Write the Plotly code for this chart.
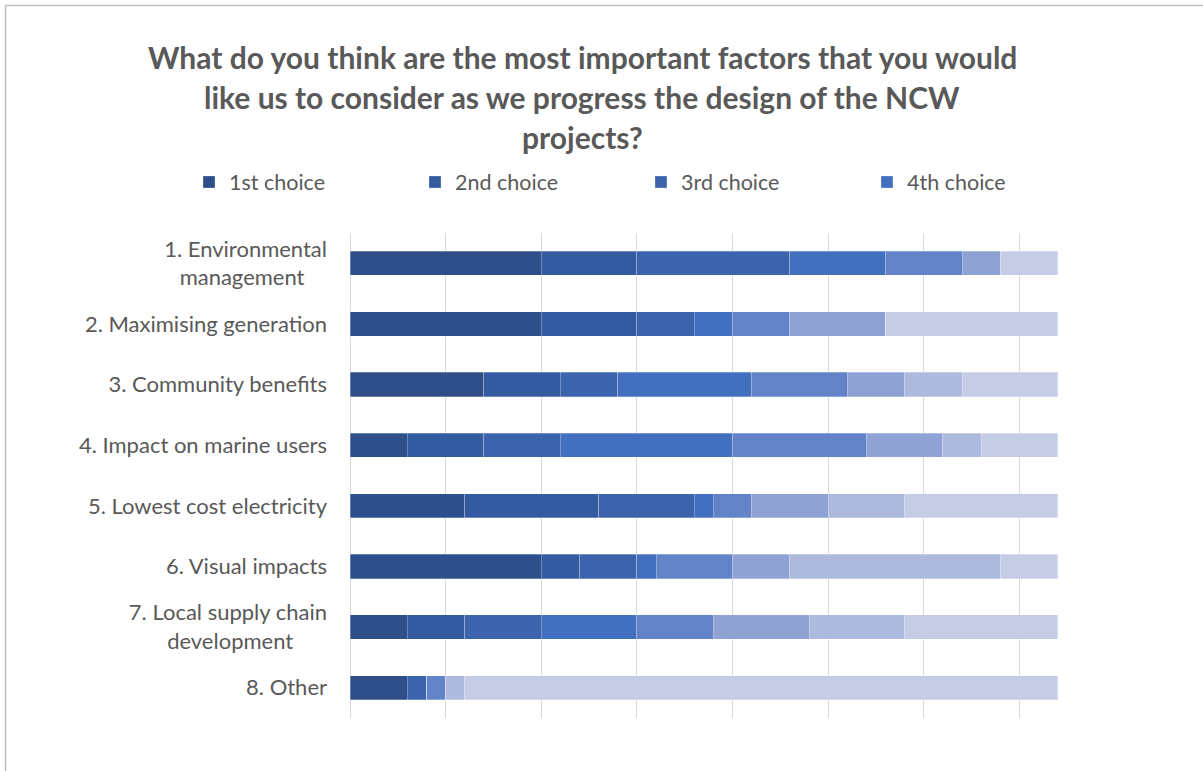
import plotly.graph_objects as go

# Factors (top to bottom) and the number of respondents giving each ranking
factors = [
    "1. Environmental<br>management&nbsp;&nbsp;&nbsp;&nbsp;",
    "2. Maximising generation",
    "3. Community benefits",
    "4. Impact on marine users",
    "5. Lowest cost electricity",
    "6. Visual impacts",
    "7. Local supply chain<br>development&nbsp;&nbsp;&nbsp;&nbsp;&nbsp;&nbsp;",
    "8. Other",
]
choices = ["1st choice", "2nd choice", "3rd choice", "4th choice",
           "5th choice", "6th choice", "7th choice", "8th choice"]

choice_1 = [10, 10, 7, 3, 6, 10, 3, 3]
choice_2 = [5, 5, 4, 4, 7, 2, 3, 0]
choice_3 = [8, 3, 3, 4, 5, 3, 4, 1]
choice_4 = [5, 2, 7, 9, 1, 1, 5, 0]
choice_5 = [4, 3, 5, 7, 2, 4, 4, 1]
choice_6 = [2, 5, 3, 4, 4, 3, 5, 0]
choice_7 = [0, 0, 3, 2, 4, 11, 5, 1]
choice_8 = [3, 9, 5, 4, 8, 3, 8, 31]

series = [choice_1, choice_2, choice_3, choice_4,
          choice_5, choice_6, choice_7, choice_8]

colors = ["#2E4F89", "#345AA0", "#3C64AD", "#4270BE",
          "#6283C8", "#8FA2D4", "#ADBADD", "#C5CDE6"]

title_lines = [
    "What do you think are the most important factors that you would",
    "like us to consider as we progress the design of the NCW",
    "projects?",
]

TEXT = "#595959"
FONT = "Lato"

fig = go.Figure()
for i, (name, vals) in enumerate(zip(choices, series)):
    fig.add_trace(go.Bar(
        y=factors,
        x=vals,
        name=name,
        orientation="h",
        marker=dict(color=colors[i],
                    line=dict(color="rgba(255,255,255,0.35)", width=0.8)),
        showlegend=i < 4,
    ))

W, H = 1203, 771
L, R, T, B = 350, 88, 233, 53
pw, ph = W - L - R, H - T - B


def px_x(x):
    return (x - L) / pw


def px_y(y):
    return (H - B - y) / ph


annotations = []
for k, line in enumerate(title_lines):
    annotations.append(dict(
        text=f"<b>{line}</b>", x=px_x(582), y=px_y(57 + 40 * k),
        xref="paper", yref="paper", xanchor="center", yanchor="middle",
        showarrow=False, font=dict(family=FONT, size=30, color=TEXT),
    ))

fig.update_layout(
    width=W, height=H,
    margin=dict(l=L, r=R, t=T, b=B),
    paper_bgcolor="white", plot_bgcolor="white",
    barmode="stack", bargap=0.6,
    font=dict(family=FONT, color=TEXT, size=21.5),
    legend=dict(
        orientation="h", x=px_x(189), y=px_y(182),
        xanchor="left", yanchor="middle",
        entrywidth=181, entrywidthmode="pixels",
        font=dict(family=FONT, size=21.5, color=TEXT),
        traceorder="normal", itemclick=False,
    ),
    annotations=annotations,
    shapes=[
        dict(type="line", xref="paper", yref="paper",
             x0=px_x(5.5), x1=px_x(1250), y0=px_y(5.5), y1=px_y(5.5),
             line=dict(color="#BFBFBF", width=1.5)),
        dict(type="line", xref="paper", yref="paper",
             x0=px_x(5.5), x1=px_x(5.5), y0=px_y(5.5), y1=px_y(820),
             line=dict(color="#BFBFBF", width=1.5)),
    ],
    hovermode=False,
)

fig.update_xaxes(
    range=[0, 40], dtick=5, showticklabels=False,
    showgrid=True, gridcolor="#D9D9D9", gridwidth=1,
    zeroline=True, zerolinecolor="#D9D9D9", zerolinewidth=1,
    showline=False, ticks="",
)
fig.update_yaxes(
    autorange="reversed", showgrid=False, showline=False, ticks="",
    ticklabelstandoff=22,
    tickfont=dict(family=FONT, size=22, color=TEXT),
)

fig.write_html("out.html")
